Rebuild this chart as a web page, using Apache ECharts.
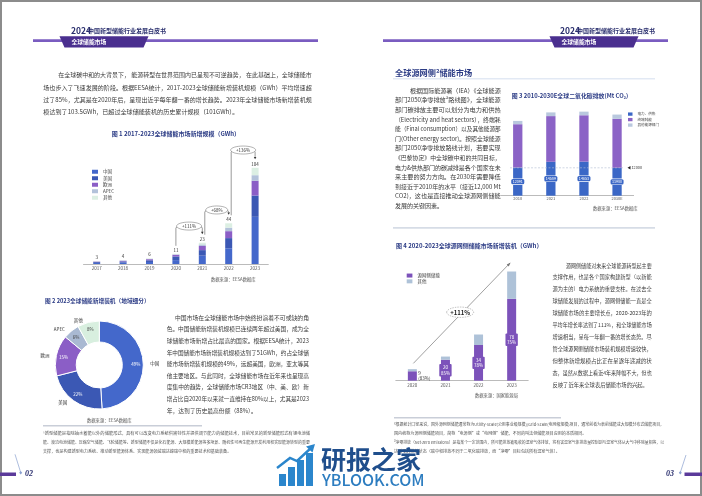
<!DOCTYPE html>
<html><head><meta charset="utf-8">
<script src="https://cdn.jsdelivr.net/npm/echarts@6/dist/echarts.min.js"></script>
<style>html,body{margin:0;padding:0;background:#fff}#c{width:702px;height:496px}</style>
</head><body><div id="c"></div><script>
const FONT = '"Noto Sans CJK SC","Noto Sans",sans-serif';

// ---------- Chart 1 data ----------
const years1 = ['2017','2018','2019','2020','2021','2022','2023'];
const totals1 = [3,4,6,11,23,44,104];
const cn1 = [1.2,1.6,2.2,4.2,9,17,51];
const us1 = [0.9,1.2,1.8,4,6,11,23];
const eu1 = [0.5,0.7,1.2,1.8,4.5,7.5,16];
const apec1 = [0.2,0.3,0.4,0.5,1.7,3.8,6];
const other1 = [0.2,0.2,0.4,0.5,1.8,4.7,8];
const growth1 = ['+111%','+68%','+136%'];
const legend1 = ['中国','美国','欧洲','APEC','其他'];

// ---------- Chart 2 data ----------
const regions2 = ['中国','美国','欧洲','APEC','其他'];
const shares2 = [49,22,15,6,8];

// ---------- Chart 3 data ----------
const years3 = ['2010','2021','2022','2030E'];
const power3 = [12091,14589,14653,11980];
const end3 = [18660,19650,19950,21070];
const otherSec3 = [1420,1590,1550,1850];
const legend3 = ['电力、供热','终端耗能','其他能源部门'];
const refLine3 = 12000;

// ---------- Chart 4 data ----------
const years4 = ['2020','2021','2022','2023'];
const src4 = [9,20,34,78];
const other4 = [2,3,10,26];
const share4 = ['83%','85%','78%','75%'];
const growth4 = '+111%';

const C = {navy:'#2b3b85', text:'#3a3a3a', cn:'#4468cb', us:'#3b58b4', eu:'#8b5ec6', apec:'#b3c2da', oth:'#dcefe3',
  p3:'#3b67c6', e3:'#8b63c6', o3:'#b9c8de', s4:'#7c52ba', o4:'#aec2d8', band:'#7a5cc0', tab:'#4a2f8f'};

const chart = echarts.init(document.getElementById('c'), null, {renderer:'canvas', width:702, height:496});

const axisLab = (fs, m) => ({fontSize:fs, color:'#555', margin:m, fontFamily:FONT});
const option = {
  animation:false,
  textStyle:{fontFamily:FONT},
  grid:[
    {left:83.5, top:153, width:184.8, height:111},
    {left:501.2, top:102.7, width:132.4, height:93},
    {left:395.8, top:254.7, width:132.4, height:126}
  ],
  xAxis:[
    {gridIndex:0, type:'category', data:years1, axisTick:{show:false}, axisLine:{lineStyle:{color:'#aaa', width:0.8}}, axisLabel:axisLab(4.5,2)},
    {gridIndex:1, type:'category', data:years3, axisTick:{show:false}, axisLine:{lineStyle:{color:'#aaa', width:0.8}}, axisLabel:axisLab(4,1.2)},
    {gridIndex:2, type:'category', data:years4, axisTick:{show:false}, axisLine:{lineStyle:{color:'#aaa', width:0.8}}, axisLabel:axisLab(4.5,2)}
  ],
  yAxis:[
    {gridIndex:0, type:'value', min:0, max:120, show:false},
    {gridIndex:1, type:'value', min:0, max:40000, show:false},
    {gridIndex:2, type:'value', min:0, max:120, show:false}
  ],
  legend:[
    {data:legend1, left:92, top:169.5, orient:'vertical', itemWidth:6, itemHeight:4, itemGap:2, icon:'rect', selectedMode:false, padding:0,
      textStyle:{fontSize:4.5, color:'#444'}},
    {data:legend3, left:628, top:112.3, orient:'vertical', itemWidth:4.5, itemHeight:3.3, itemGap:1.9, icon:'rect', selectedMode:false, padding:0,
      textStyle:{fontSize:3.6, color:'#444'}},
    {data:['源网侧储能','其他 '], left:406.7, top:273.3, orient:'vertical', itemWidth:5.7, itemHeight:4, itemGap:1.3, icon:'rect', selectedMode:false, padding:0,
      textStyle:{fontSize:4.5, color:'#444'}}
  ],
  series:[
    {name:'中国', type:'bar', stack:'a', xAxisIndex:0, yAxisIndex:0, barWidth:7, data:cn1, itemStyle:{color:C.cn}},
    {name:'美国', type:'bar', stack:'a', xAxisIndex:0, yAxisIndex:0, barWidth:7, data:us1, itemStyle:{color:C.us}},
    {name:'欧洲', type:'bar', stack:'a', xAxisIndex:0, yAxisIndex:0, barWidth:7, data:eu1, itemStyle:{color:C.eu}},
    {name:'APEC', type:'bar', stack:'a', xAxisIndex:0, yAxisIndex:0, barWidth:7, data:apec1, itemStyle:{color:C.apec}},
    {name:'其他', type:'bar', stack:'a', xAxisIndex:0, yAxisIndex:0, barWidth:7, data:other1, itemStyle:{color:C.oth},
      label:{show:true, position:'top', distance:1.5, fontSize:4.5, color:'#333', formatter:p=>String(totals1[p.dataIndex])}},

    {name:'地域', type:'pie', center:[99.3,365], radius:[23,44], startAngle:90, clockwise:true, avoidLabelOverlap:false,
      data:regions2.map((n,i)=>({name:n, value:shares2[i], itemStyle:{color:[C.cn,C.us,C.eu,'#a9b9d2','#d8efdf'][i]}})),
      itemStyle:{borderColor:'#fff', borderWidth:1},
      label:{show:true, position:'outside', formatter:'{b}', fontSize:4.5, color:'#333'},
      labelLine:{show:false, length:2, length2:0}},
    {name:'地域%', type:'pie', center:[99.3,365], radius:[23,44], startAngle:90, clockwise:true, silent:true,
      data:regions2.map((n,i)=>({name:n, value:shares2[i], label:{color: i<3?'#fff':'#444'}})),
      itemStyle:{color:'rgba(0,0,0,0)'},
      label:{show:true, position:'inside', formatter:'{c}%', fontSize:4.5},
      labelLine:{show:false}},

    {name:'电力、供热', type:'bar', stack:'b', xAxisIndex:1, yAxisIndex:1, barWidth:9.3, data:power3, itemStyle:{color:C.p3},
      label:{show:true, position:'inside', fontSize:3.7, color:'#fff', backgroundColor:C.p3, borderColor:'#fff', borderWidth:0.6,
        borderRadius:1.5, padding:[0.8,1.4], formatter:p=>String(p.value)}},
    {name:'终端耗能', type:'bar', stack:'b', xAxisIndex:1, yAxisIndex:1, barWidth:9.3, data:end3, itemStyle:{color:C.e3}},
    {name:'其他能源部门', type:'bar', stack:'b', xAxisIndex:1, yAxisIndex:1, barWidth:9.3, data:otherSec3, itemStyle:{color:C.o3}},

    {name:'源网侧储能', type:'bar', stack:'c', xAxisIndex:2, yAxisIndex:2, barWidth:9, itemStyle:{color:C.s4},
      data:src4.map((v,i)=> i===0 ? {value:v, label:{position:'right', distance:1.5, color:'#333', backgroundColor:'transparent', padding:0, formatter:v+'\n('+share4[i]+')'}} : v),
      label:{show:true, position:'inside', fontSize:4.5, lineHeight:5.2, color:'#fff', backgroundColor:C.s4, padding:[1,1.6], borderRadius:1,
        formatter:p=>src4[p.dataIndex]+'\n'+share4[p.dataIndex]}},
    {name:'其他 ', type:'bar', stack:'c', xAxisIndex:2, yAxisIndex:2, barWidth:9, data:other4, itemStyle:{color:C.o4}}
  ]
};
chart.setOption(option);

// ---------- Text & decoration ----------
const els = [];
const mctx = document.createElement('canvas').getContext('2d');
function meas(t, font){ mctx.font = font; return mctx.measureText(t).width; }
function txt(t, x, y, size, color, opts){
  opts = opts||{};
  const font = (opts.weight? opts.weight+' ':'') + (opts.italic?'italic ':'') + size + 'px ' + (opts.family||FONT);
  els.push({type:'text', x:x, y:y, scaleX:opts.scaleX||1, z:opts.z||10, style:{text:t, font:font, fill:color, align:opts.align||'left', verticalAlign:'middle'}});
}
function para(lines, x0, xIndent, right, y0, lh, size, color){
  const font = size + 'px ' + FONT;
  lines.forEach((t,i)=>{
    const x = i===0 ? xIndent : x0;
    let s = 1;
    if (i < lines.length-1){
      s = (right - x) / meas(t, font);
      s = Math.max(0.85, Math.min(1.2, s));
    }
    txt(t, x, y0 + lh*i, size, color, {scaleX:s});
  });
}

// frame
els.push({type:'rect', shape:{x:1,y:1,width:700,height:494}, style:{fill:'none', stroke:'#8c8c8c', lineWidth:2}, z:1});

// headers
function header(lineX1, lineX2, tabX, titleX){
  els.push({type:'rect', shape:{x:lineX1, y:39.3, width:lineX2-lineX1, height:2.8}, style:{fill:C.band}, z:2});
  els.push({type:'polygon', shape:{points:[[tabX,36.3],[tabX+89,36.3],[tabX+84,47.5],[tabX+5,47.5]]}, style:{fill:C.tab}, z:3});
  txt('全球储能市场', tabX+12, 41.8, 5.8, '#fff', {weight:'bold'});
  txt('2024', titleX, 30.5, 8.5, '#2a2f6e', {weight:'bold'});
  txt('中国新型储能行业发展白皮书', titleX+17, 31, 6, '#2a2f6e', {weight:'bold'});
}
header(33, 318, 59.5, 71);
header(383, 668, 549.5, 560);

// left page paragraph 1
para([
  '在全球碳中和的大背景下， 能源转型在世界范围内已呈现不可逆趋势， 在此基础上，全球储能市',
  '场也步入了飞速发展的阶段。根据EESA统计，2017-2023全球储能新增装机规模（GWh）平均增速超',
  '过了85%，尤其是在2020年后，呈现出近乎每年翻一番的增长趋势。2023年全球储能市场新增装机规',
  '模达到了103.5GWh，已超过全球储能装机的历史累计规模（101GWh）。'
], 43.3, 58.3, 311.7, 75, 12.2, 6.1, C.text);

// chart titles & sources
txt('图 1 2017-2023全球储能市场新增规模（GWh）', 111.7, 133.3, 6, C.navy, {weight:'bold'});
txt('数据来源：EESA数据库', 211, 279.3, 4.3, '#555');
txt('图 2 2023全球储能新增装机（地域细分）', 45, 300.7, 5.7, C.navy, {weight:'bold'});
txt('数据来源：EESA数据库', 87, 420, 4.3, '#555');

// left page paragraph 2
para([
  '中国市场在全球储能市场中始终扮演着不可或缺的角',
  '色。中国储能新增装机规模已连续两年超过美国，成为全',
  '球储能市场新增占比最高的国家。根据EESA统计，2023',
  '年中国储能市场新增装机规模达到了51GWh，约占全球储',
  '能市场新增装机规模的49%，远超美国，欧洲，亚太等其',
  '他主要地区。与此同时，全球储能市场在近年来也呈现高',
  '度集中的趋势，全球储能市场CR3地区（中、美、欧）新',
  '增占比自2020年以来就一直维持在80%以上，尤其是2023',
  '年，达到了历史最高份额（88%）。'
], 166.7, 175, 309, 317.5, 11.6, 5.8, C.text);

// left footnote
els.push({type:'rect', shape:{x:43, y:425, width:159, height:1.4}, style:{fill:'#c9ced8'}, z:2});
para([
  '¹新型储能是指除抽水蓄能以外的储能形式，具有可以改变电力系统供需特性并提供调节能力的储能技术，目前常见的新型储能形式有锂电池储',
  '能、液流电池储能、压缩空气储能、飞轮储能等。新型储能不仅是化石能源、大规模新能源等多场景、随机性可再生能源开发利用和实现能源转型的重要',
  '支撑，也是构建新型电力系统、推动新型能源体系、实现能源领域碳达峰碳中和的重要技术和基础装备。'
], 43, 43, 310, 433, 9.3, 4.1, '#555');

// right page section title
txt('全球源网侧²储能市场', 395, 72.8, 8.2, C.navy, {weight:'bold'});
els.push({type:'rect', shape:{x:393, y:78.5, width:262, height:0.8}, style:{fill:'#c5d3ea'}, z:2});

para([
  '根据国际能源署（IEA）《全球能源',
  '部门2050净零排放³路线图》，全球能源',
  '部门碳排放主要可以划分为电力和供热',
  '（Electricity and heat sectors），终端耗',
  '能（Final consumption）以及其他能源部',
  '门(Other energy sector)。按照全球能源',
  '部门2050净零排放路线计划，若要实现',
  '《巴黎协定》中全球碳中和的共同目标，',
  '电力&供热部门的碳减排是各个国家在未',
  '来主要的努力方向。在2030年需要降低',
  '到接近于2010年的水平（接近12,000 Mt',
  'CO2)，这也是直接推动全球源网侧储能',
  '发展的关键因素。'
], 395, 410, 500.7, 90.5, 9.6, 6, C.text);

txt('图 3 2010-2030E全球二氧化碳排放(Mt CO₂)', 511.7, 96, 5.9, C.navy, {weight:'bold'});
txt('数据来源：EESA数据库', 593, 208, 4.3, '#555');
els.push({type:'rect', shape:{x:393, y:227, width:262, height:1.8}, style:{fill:'#d6dce6'}, z:2});

txt('图 4 2020-2023全球源网侧储能市场新增装机（GWh）', 396, 245.7, 6, C.navy, {weight:'bold'});
txt('数据来源：国家能源局', 475, 395.7, 4.3, '#555');

para([
  '源网侧储能对未来全球能源转型起主要',
  '支撑作用，也是各个国家构建新型（以新能',
  '源为主的）电力系统的重要支柱。在过去全',
  '球储能发展的过程中，源网侧储能一直是全',
  '球储能市场的主要增长点，2020-2023年的',
  '平均年增长率达到了111%，和全球储能市场',
  '增速相当，呈每一年翻一番的增长态势。尽',
  '管全球源网侧储能市场装机规模增速较快，',
  '但整体新增规模占比正在呈逐年递减的状',
  '态，虽然从数据上看近4年来降幅不大，但也',
  '反映了近年来全球表后储能市场的兴起。'
], 552.5, 566, 651.7, 265.5, 11.9, 5.3, C.text);

// right footnote
els.push({type:'rect', shape:{x:394, y:417, width:167, height:1.4}, style:{fill:'#c9ced8'}, z:2});
para([
  '²根据统计口径来说，国外源网侧储能通常称为Utility-Scale(公用事业级规模)/Grid-Scale(电网级规模)项目，通常前者为表前储能或大规模分布式储能项目，',
  '国内统称为源网侧储能项目，简称“电源侧”或“电网侧”储能，不同的叫法但储能项目应用的本质相同。'
], 394, 394, 664, 424, 9.2, 4.1, '#555');
para([
  '³净零排放（Net-zero emissions）是指某个一定范围内，所可能排放被吸收的温室气体排放，将有害温室气体排放量控制到与温室气体从大气中移除量相等，以',
  '达到零的排放状态（碳中和排放不同于二氧化碳排放，而“净零”目标包括所有温室气体）。'
], 394, 394, 664, 442.4, 9.3, 4.1, '#555');

// page numbers
els.push({type:'rect', shape:{x:0, y:472.5, width:16, height:3.5}, style:{fill:'#5b3a9a'}, z:3});
els.push({type:'line', shape:{x1:15, y1:454.3, x2:20.7, y2:472.5}, style:{stroke:'#8aa0d0', lineWidth:0.7}, z:3});
els.push({type:'polygon', shape:{points:[[20.7,471],[22.2,472.8],[20.7,474.6],[19.2,472.8]]}, style:{fill:'#8aa0d0'}, z:3});
txt('02', 25, 474, 8, '#2a2f6e', {weight:'bold', italic:true, family:'"Liberation Serif","DejaVu Serif",serif'});
els.push({type:'rect', shape:{x:684.5, y:472.5, width:17.5, height:3.5}, style:{fill:'#5b3a9a'}, z:3});
els.push({type:'line', shape:{x1:686, y1:455, x2:680.3, y2:472.5}, style:{stroke:'#8aa0d0', lineWidth:0.7}, z:3});
els.push({type:'polygon', shape:{points:[[680.3,471],[681.8,472.8],[680.3,474.6],[678.8,472.8]]}, style:{fill:'#8aa0d0'}, z:3});
txt('03', 666, 474.3, 8, '#2a2f6e', {weight:'bold', italic:true, family:'"Liberation Serif","DejaVu Serif",serif'});

// watermark
[[279,474,7,12],[288,467,7,19],[297,460,7,26],[306,453,7,33]].forEach(b=>{
  els.push({type:'rect', shape:{x:b[0], y:b[1], width:b[2], height:b[3]}, style:{fill:'#2b86cc'}, z:20});
});
els.push({type:'polyline', shape:{points:[[277,468],[290,458],[297,461],[311,448]]}, style:{stroke:'#2b86cc', lineWidth:2.4, fill:'none'}, z:20});
els.push({type:'polygon', shape:{points:[[315,444],[306,446.5],[312.5,452.5]]}, style:{fill:'#2b86cc'}, z:20});
txt('研报之家', 321, 459.5, 25, '#1f4e8c', {weight:'bold', z:20});
txt('YBLOOK.COM', 322, 479.5, 16, '#2d7dc0', {weight:'500', z:20});

// ---------- annotations computed through the axes ----------
// chart 1 growth brackets
const lvl1 = [41, 58.4, 123.2];
for (let k=0;k<3;k++){
  const i = 3+k;
  const pl = chart.convertToPixel({gridIndex:0}, [i, totals1[i]]);
  const pr = chart.convertToPixel({gridIndex:0}, [i+1, totals1[i+1]]);
  const ph = chart.convertToPixel({gridIndex:0}, [i, lvl1[k]]);
  const xl = pl[0] + (k?2.5:0), xr = pr[0];
  const ys = pl[1]-8, ye = pr[1]-8.5, yh = ph[1], r = 2.2;
  els.push({type:'polyline', z:5, shape:{points:[[xl,ys],[xl,yh+r],[xl+0.35*r,yh+0.35*r],[xl+r,yh],[xr-r,yh],[xr-0.35*r,yh+0.35*r],[xr,yh+r],[xr,ye-2]]},
    style:{stroke:'#555', lineWidth:0.6, fill:'none'}});
  els.push({type:'polygon', z:5, shape:{points:[[xr-1.3,ye-2.4],[xr+1.3,ye-2.4],[xr,ye]]}, style:{fill:'#333'}});
  const cx = (xl+xr)/2;
  els.push({type:'ellipse', z:6, shape:{cx:cx, cy:yh, rx:k===1?11:12.5, ry:4}, style:{fill:'#fff', stroke:'#666', lineWidth:0.5}});
  txt(growth1[k], cx, yh, 4.5, '#333', {align:'center', z:7});
}

// chart 3 reference line
const yRef = chart.convertToPixel({yAxisIndex:1}, refLine3);
els.push({type:'line', z:5, shape:{x1:510, y1:yRef, x2:623, y2:yRef}, style:{stroke:'#aebbd2', lineWidth:0.6, lineDash:[2,1.5]}});
els.push({type:'polygon', z:5, shape:{points:[[627.5,yRef],[630.5,yRef-1.7],[630.5,yRef+1.7]]}, style:{fill:'#222'}});
txt(String(refLine3), 631.5, yRef, 3.8, '#333', {});

// chart 4 trend arrow
const a0 = chart.convertToPixel({gridIndex:2}, [0, 16.5]);
const a1 = chart.convertToPixel({gridIndex:2}, [3, 112]);
const ax1 = a1[0]-1.7;
els.push({type:'line', z:5, shape:{x1:a0[0]+1, y1:a0[1], x2:ax1, y2:a1[1]}, style:{stroke:'#777', lineWidth:0.7}});
const ang = Math.atan2(a1[1]-a0[1], ax1-a0[0]-1);
const hx = ax1, hy = a1[1], L=3.2, W=1.4;
els.push({type:'polygon', z:5, shape:{points:[[hx+Math.cos(ang)*1,hy+Math.sin(ang)*1],
  [hx-Math.cos(ang)*L-Math.sin(ang)*W, hy-Math.sin(ang)*L+Math.cos(ang)*W],
  [hx-Math.cos(ang)*L+Math.sin(ang)*W, hy-Math.sin(ang)*L-Math.cos(ang)*W]]}, style:{fill:'#777'}});
const t = 0.49;
const ex = a0[0] + (ax1-a0[0])*t, ey = a0[1] + (a1[1]-a0[1])*t - 2;
els.push({type:'ellipse', z:6, shape:{cx:ex, cy:ey, rx:13.5, ry:5.2}, style:{fill:'#fff', stroke:'#888', lineWidth:0.5, lineDash:[1.5,1]}});
txt(growth4, ex, ey, 6, '#222', {align:'center', weight:'bold', z:7});

chart.setOption({graphic:{elements:els}});
</script></body></html>
